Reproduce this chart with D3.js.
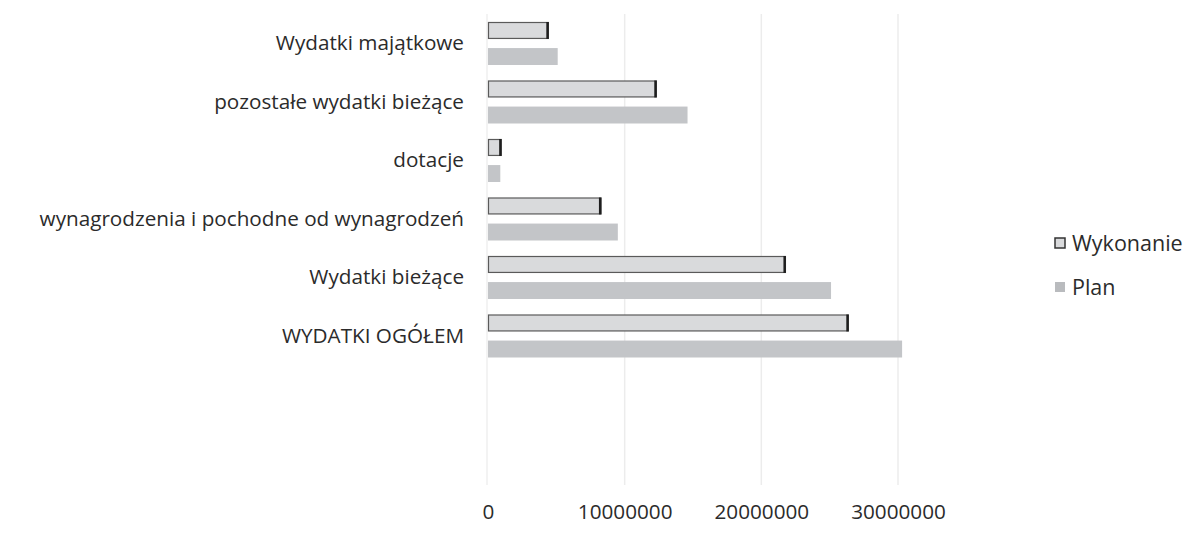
<!DOCTYPE html>
<html>
<head>
<meta charset="utf-8">
<script src="https://cdn.jsdelivr.net/npm/d3@7"></script>
<style>
  body { margin:0; background:#fff; }
  text { font-family: "Open Sans", sans-serif; fill:#2b2b2b; }
</style>
</head>
<body>
<div class="chart"></div>
<script>
const categories = ["Wydatki majątkowe", "pozostałe wydatki bieżące", "dotacje",
                    "wynagrodzenia i pochodne od wynagrodzeń", "Wydatki bieżące", "WYDATKI OGÓŁEM"];
const series = ["Wykonanie", "Plan"];
const wykonanie = [4450000, 12350000, 1000000, 8300000, 21800000, 26400000];
const plan = [5100000, 14600000, 900000, 9500000, 25100000, 30300000];
const xTicks = [0, 10000000, 20000000, 30000000];

const width = 1200, height = 538;
const margin = { top:14, left:488, plotBottom:485 };

const svg = d3.select(".chart")
    .append("svg")
    .attr("width", width)
    .attr("height", height);

const data = categories.map((c, i) => ({ cat:c, Wykonanie:wykonanie[i], Plan:plan[i] }));

// x scale
let xScale = d3.scaleLinear()
    .domain([0, 30000000])
    .range([margin.left, 898]);

// y scale (one band per category)
let yScale = d3.scaleBand()
    .domain(categories)
    .range([margin.top, margin.top + 58.5 * categories.length]);

let ySub = d3.scaleBand()
    .domain(series)
    .range([8, 51])
    .paddingInner(0.35);

// gridlines
svg.append("g")
    .selectAll("line")
    .data(xTicks.slice(1))
    .enter().append("line")
    .attr("x1", d => xScale(d)).attr("x2", d => xScale(d))
    .attr("y1", margin.top).attr("y2", margin.plotBottom)
    .attr("stroke", "#ececec")
    .attr("stroke-width", 1.5);

// vertical axis line
svg.append("line")
    .attr("x1", xScale(0) - 1).attr("x2", xScale(0) - 1)
    .attr("y1", margin.top).attr("y2", margin.plotBottom)
    .attr("stroke", "#efefef")
    .attr("stroke-width", 1.5);

// x axis
let xAxis = d3.axisBottom(xScale).tickValues(xTicks).tickFormat(d3.format("d")).tickSize(0).tickPadding(0);
svg.append("g")
    .attr("class", "xAxis")
    .attr("transform", `translate(0, 504)`)
    .call(xAxis)
    .call(g => g.select(".domain").remove())
    .call(g => g.selectAll("text").attr("font-size", 20.7).attr("fill", "#2b2b2b").attr("font-family", "Open Sans"));

// category labels
svg.append("g")
    .selectAll("text")
    .data(categories)
    .enter().append("text")
    .attr("x", 464)
    .attr("y", d => yScale(d) + yScale.bandwidth() / 2)
    .attr("dy", "0.35em")
    .attr("text-anchor", "end")
    .attr("font-size", 20.7)
    .text(d => d);

// bars
let groups = svg.selectAll(".grp")
    .data(data)
    .enter().append("g")
    .attr("class", "grp")
    .attr("transform", d => `translate(0, ${yScale(d.cat)})`);

groups.append("rect")
    .attr("x", xScale(0))
    .attr("y", ySub("Plan"))
    .attr("width", d => xScale(d.Plan) - xScale(0))
    .attr("height", ySub.bandwidth())
    .attr("fill", "#c3c5c8");

groups.append("rect")
    .attr("x", xScale(0) + 0.5)
    .attr("y", ySub("Wykonanie") + 0.5)
    .attr("width", d => xScale(d.Wykonanie) - xScale(0) - 1)
    .attr("height", ySub.bandwidth() - 1)
    .attr("fill", "#d9dadc")
    .attr("stroke", "#5a5a5a")
    .attr("stroke-width", 1.2);

// dark right end of Wykonanie bars
groups.append("rect")
    .attr("x", d => xScale(d.Wykonanie) - 2.5)
    .attr("y", ySub("Wykonanie"))
    .attr("width", 2.5)
    .attr("height", ySub.bandwidth())
    .attr("fill", "#1e1e1e");

// legend
let legend = svg.append("g")
    .selectAll("g")
    .data(series)
    .enter().append("g")
    .attr("transform", (d, i) => `translate(1055, ${243 + i * 44})`);

legend.append("rect")
    .attr("x", 0).attr("y", -5)
    .attr("width", 10).attr("height", 10)
    .attr("fill", d => d === "Plan" ? "#b9bbbe" : "#d9dadc")
    .attr("stroke", d => d === "Plan" ? "none" : "#333")
    .attr("stroke-width", 1.5);

legend.append("text")
    .attr("x", 17)
    .attr("dy", "0.35em")
    .attr("font-size", 21.5)
    .text(d => d);
</script>
</body>
</html>
